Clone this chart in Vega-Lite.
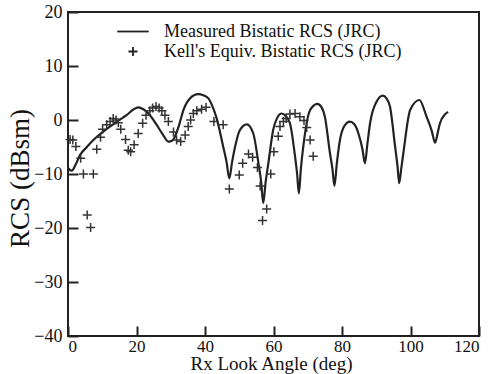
{
  "$schema": "https://vega.github.io/schema/vega-lite/v6.json",
  "width": 411,
  "height": 324,
  "autosize": "none",
  "padding": {"left": 68, "top": 12, "right": 15, "bottom": 38},
  "background": "white",
  "config": {
    "font": "Liberation Serif",
    "view": {"stroke": "#222", "strokeWidth": 2},
    "axis": {
      "grid": false,
      "domain": false,
      "tickColor": "#222",
      "tickWidth": 2,
      "tickSize": -10,
      "labelFont": "Liberation Serif",
      "labelFontSize": 18,
      "labelColor": "#111",
      "titleFont": "Liberation Serif",
      "titleFontWeight": "normal",
      "titleColor": "#111"
    }
  },
  "datasets": {
    "measured": [
      {"deg": 0, "rcs": -8.9}, {"deg": 1.1, "rcs": -9.4}, {"deg": 2.2, "rcs": -8.3}, {"deg": 3.5, "rcs": -6.5},
      {"deg": 5.5, "rcs": -5.0}, {"deg": 7.4, "rcs": -3.7}, {"deg": 10, "rcs": -2.3}, {"deg": 12.3, "rcs": -1.2},
      {"deg": 14.7, "rcs": -0.1}, {"deg": 17.1, "rcs": 0.9}, {"deg": 19, "rcs": 1.9}, {"deg": 20.5, "rcs": 2.35},
      {"deg": 22, "rcs": 2.0}, {"deg": 23.5, "rcs": 1.2}, {"deg": 25.9, "rcs": -0.9}, {"deg": 27.8, "rcs": -2.8},
      {"deg": 29.3, "rcs": -4.0}, {"deg": 30.5, "rcs": -3.8}, {"deg": 31.2, "rcs": -3.1}, {"deg": 32.5, "rcs": -0.8},
      {"deg": 33.7, "rcs": 1.85}, {"deg": 35.6, "rcs": 4.0}, {"deg": 38.0, "rcs": 4.8}, {"deg": 39.5, "rcs": 4.6},
      {"deg": 41.0, "rcs": 4.0}, {"deg": 42.5, "rcs": 2.0}, {"deg": 43.4, "rcs": 0.3}, {"deg": 45.3, "rcs": -4.9},
      {"deg": 46.3, "rcs": -7.8}, {"deg": 47.1, "rcs": -10.8}, {"deg": 47.9, "rcs": -7.8}, {"deg": 48.8, "rcs": -4.9},
      {"deg": 50.2, "rcs": -1.85}, {"deg": 52.2, "rcs": -0.8}, {"deg": 54.1, "rcs": -2.5}, {"deg": 55.6, "rcs": -8.0},
      {"deg": 56.4, "rcs": -11.5}, {"deg": 57.0, "rcs": -15.4}, {"deg": 57.7, "rcs": -11.5}, {"deg": 58.5, "rcs": -8.0},
      {"deg": 59.9, "rcs": -1.85}, {"deg": 61.0, "rcs": 0.3}, {"deg": 62.4, "rcs": 1.2}, {"deg": 63.6, "rcs": 0.7},
      {"deg": 64.8, "rcs": -0.6}, {"deg": 66.3, "rcs": -6.8}, {"deg": 66.9, "rcs": -10.0}, {"deg": 67.4, "rcs": -13.6},
      {"deg": 68.0, "rcs": -9.0}, {"deg": 68.7, "rcs": -4.9}, {"deg": 70.7, "rcs": 1.85}, {"deg": 72.8, "rcs": 3.0},
      {"deg": 74.0, "rcs": 2.4}, {"deg": 75.0, "rcs": 0.6}, {"deg": 76.5, "rcs": -6.2}, {"deg": 77.2, "rcs": -9.0},
      {"deg": 77.8, "rcs": -12.2}, {"deg": 78.5, "rcs": -8.0}, {"deg": 79.4, "rcs": -3.7}, {"deg": 80.8, "rcs": -1.0},
      {"deg": 82.3, "rcs": -0.3}, {"deg": 83.6, "rcs": -0.8}, {"deg": 84.8, "rcs": -2.5}, {"deg": 86.0, "rcs": -5.5},
      {"deg": 86.7, "rcs": -8.0}, {"deg": 87.4, "rcs": -4.5}, {"deg": 88.2, "rcs": -0.6}, {"deg": 90.1, "rcs": 3.4},
      {"deg": 91.9, "rcs": 4.5}, {"deg": 93.0, "rcs": 4.0}, {"deg": 94.0, "rcs": 2.5}, {"deg": 95.5, "rcs": -4.9},
      {"deg": 96.2, "rcs": -8.5}, {"deg": 96.7, "rcs": -11.7}, {"deg": 97.3, "rcs": -9.0}, {"deg": 97.9, "rcs": -6.2},
      {"deg": 99.9, "rcs": 1.85}, {"deg": 102.6, "rcs": 3.7}, {"deg": 104.7, "rcs": 0.6}, {"deg": 106.2, "rcs": -2.0},
      {"deg": 107.2, "rcs": -4.2}, {"deg": 108.0, "rcs": -2.2}, {"deg": 108.6, "rcs": -0.6}, {"deg": 110.0, "rcs": 1.0},
      {"deg": 111.0, "rcs": 1.5}
    ],
    "kell": [
      {"deg": 0.6, "rcs": -3.6}, {"deg": 1.4, "rcs": -3.7}, {"deg": 2.3, "rcs": -4.9}, {"deg": 3.7, "rcs": -7.1},
      {"deg": 4.5, "rcs": -10}, {"deg": 7.4, "rcs": -10}, {"deg": 5.6, "rcs": -17.6}, {"deg": 6.6, "rcs": -19.9},
      {"deg": 8.4, "rcs": -5.4}, {"deg": 9.5, "rcs": -3.2}, {"deg": 10.1, "rcs": -1.7}, {"deg": 11.3, "rcs": -0.9},
      {"deg": 12.3, "rcs": -0.3}, {"deg": 13.2, "rcs": 0.3}, {"deg": 14.0, "rcs": 0}, {"deg": 14.7, "rcs": -0.5},
      {"deg": 15.4, "rcs": -1.7}, {"deg": 16.8, "rcs": -3.6}, {"deg": 17.6, "rcs": -5.6}, {"deg": 18.3, "rcs": -5.9},
      {"deg": 19.3, "rcs": -4.6}, {"deg": 20.5, "rcs": -2.5}, {"deg": 21.8, "rcs": -0.6}, {"deg": 22.8, "rcs": 0.9},
      {"deg": 23.9, "rcs": 1.7}, {"deg": 24.7, "rcs": 2.2}, {"deg": 25.7, "rcs": 2.5}, {"deg": 26.6, "rcs": 2.2},
      {"deg": 27.4, "rcs": 1.7}, {"deg": 28.3, "rcs": 0.9}, {"deg": 29.3, "rcs": -0.3}, {"deg": 30.8, "rcs": -2.2},
      {"deg": 31.7, "rcs": -3.7}, {"deg": 32.9, "rcs": -4.0}, {"deg": 34.2, "rcs": -2.8}, {"deg": 35.1, "rcs": -1.2},
      {"deg": 35.8, "rcs": 0}, {"deg": 36.6, "rcs": 1.2}, {"deg": 37.6, "rcs": 1.7}, {"deg": 39.0, "rcs": 2.0},
      {"deg": 40.3, "rcs": 2.35}, {"deg": 42.6, "rcs": -0.3}, {"deg": 45.3, "rcs": -0.9}, {"deg": 47.1, "rcs": -12.8},
      {"deg": 50.0, "rcs": -10.2}, {"deg": 51.0, "rcs": -8.0}, {"deg": 52.7, "rcs": -6.3}, {"deg": 53.9, "rcs": -6.9},
      {"deg": 55.3, "rcs": -8.8}, {"deg": 56.1, "rcs": -12.2}, {"deg": 56.8, "rcs": -18.6}, {"deg": 58.0, "rcs": -16.5},
      {"deg": 59.2, "rcs": -10}, {"deg": 60.1, "rcs": -5.9}, {"deg": 61.4, "rcs": -3.0}, {"deg": 61.9, "rcs": -1.2},
      {"deg": 62.9, "rcs": -0.3}, {"deg": 63.7, "rcs": 0.3}, {"deg": 64.8, "rcs": 1.1}, {"deg": 66.3, "rcs": 1.2},
      {"deg": 67.7, "rcs": 0.6}, {"deg": 68.9, "rcs": -0.1}, {"deg": 69.7, "rcs": -1.4}, {"deg": 70.7, "rcs": -3.7},
      {"deg": 71.6, "rcs": -6.7}
    ]
  },
  "encoding": {
    "x": {
      "field": "deg", "type": "quantitative",
      "scale": {"domain": [0, 120], "nice": false, "zero": false},
      "axis": {
        "title": "Rx Look Angle (deg)",
        "values": [0, 20, 40, 60, 80, 100, 120],
        "labelPadding": 12,
        "labelFontSize": 17,
        "titleFontSize": 19,
        "titleX": 203, "titleY": 33.5, "titleAlign": "center", "titleBaseline": "alphabetic"
      }
    },
    "y": {
      "field": "rcs", "type": "quantitative",
      "scale": {"domain": [-40, 20], "nice": false, "zero": false},
      "axis": {
        "title": "RCS (dBsm)",
        "values": [-40, -30, -20, -10, 0, 10, 20],
        "labelPadding": 16,
        "titleFontSize": 27,
        "titleAngle": -90,
        "titleX": -48, "titleY": 166, "titleAlign": "center", "titleBaseline": "middle"
      }
    }
  },
  "layer": [
    {
      "data": {"name": "measured"},
      "mark": {"type": "line", "color": "#222", "strokeWidth": 2.2, "interpolate": "monotone", "clip": true}
    },
    {
      "data": {"name": "kell"},
      "transform": [{"calculate": "'Kell\\'s Equiv. Bistatic RCS (JRC)'", "as": "series"}],
      "mark": {"type": "point", "filled": false, "color": "#333", "strokeWidth": 1.5, "size": 81, "opacity": 1},
      "encoding": {
        "shape": {
          "field": "series", "type": "nominal",
          "scale": {
            "domain": ["Measured Bistatic RCS (JRC)", "Kell's Equiv. Bistatic RCS (JRC)"],
            "range": ["M-3.5,0L3.5,0", "M-1,0L1,0M0,-1L0,1"]
          },
          "legend": {
            "title": null,
            "orient": "none",
            "legendX": 56,
            "legendY": 10.5,
            "padding": 0,
            "labelFont": "Liberation Serif",
            "labelFontSize": 18,
            "labelColor": "#111",
            "labelLimit": 400,
            "labelOffset": 22,
            "rowPadding": 2,
            "symbolSize": 81,
            "symbolStrokeColor": "#222",
            "symbolStrokeWidth": 1.8,
            "symbolFillColor": "transparent"
          }
        }
      }
    }
  ]
}
